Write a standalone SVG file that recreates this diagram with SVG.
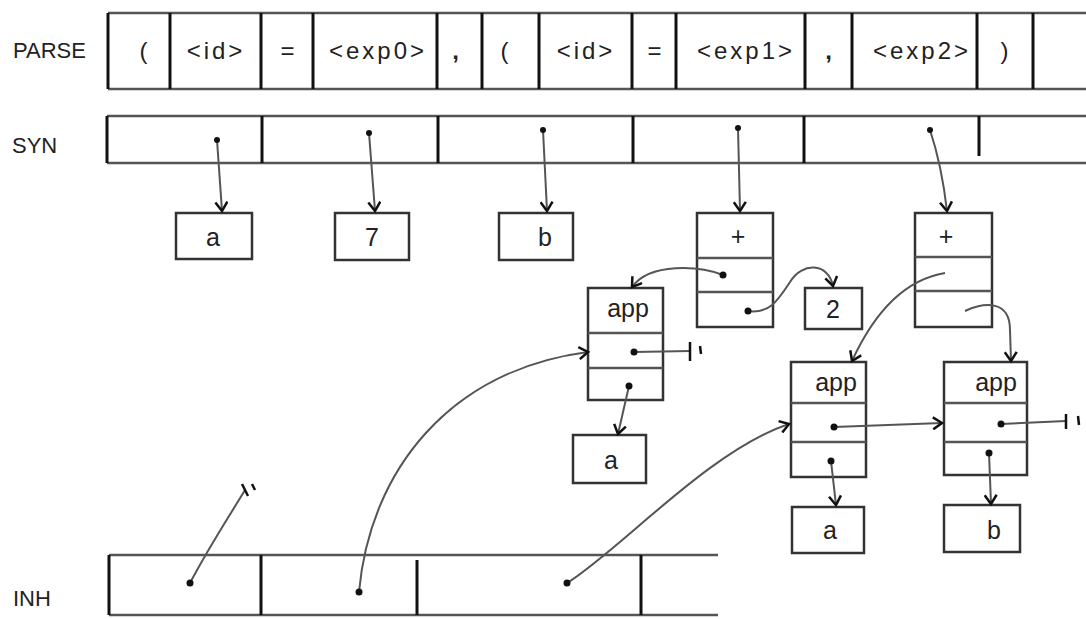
<svg xmlns="http://www.w3.org/2000/svg" width="1086" height="619" viewBox="0 0 1086 619">
<defs>
<style>
.lbl{font-family:"Liberation Sans",Arial,sans-serif;font-size:22px;fill:#222}
.t{font-family:"Liberation Sans",Arial,sans-serif;font-size:25px;fill:#222;text-anchor:middle}
.p{font-size:24px;letter-spacing:3px}
.h{fill:none;stroke:#555;stroke-width:2.5}
.v{stroke:#111;stroke-width:3}
.box{fill:#fff;stroke:#333;stroke-width:2.5}
.c{fill:none;stroke:#555;stroke-width:2}
.dot{fill:#111}
.tick{stroke:#111;stroke-width:2.5;fill:none}
</style>
<marker id="ah" markerWidth="14" markerHeight="14" refX="11" refY="7" orient="auto" markerUnits="userSpaceOnUse">
<path d="M2,1 L11,7 L2,13" fill="none" stroke="#111" stroke-width="2.5"/>
</marker>
</defs>
<rect x="0" y="0" width="1086" height="619" fill="#fff"/>

<g id="parse-row">
<text class="lbl" x="13" y="58">PARSE</text>
<line class="h" x1="108" y1="13" x2="1086" y2="13"/>
<line class="h" x1="108" y1="89" x2="1086" y2="89"/>
<g class="v">
<line x1="108" y1="13" x2="108" y2="89"/><line x1="170" y1="13" x2="170" y2="89"/>
<line x1="261" y1="13" x2="261" y2="89"/><line x1="313" y1="13" x2="313" y2="89"/>
<line x1="437" y1="13" x2="437" y2="89"/><line x1="482" y1="13" x2="482" y2="89"/>
<line x1="539" y1="13" x2="539" y2="89"/><line x1="632" y1="13" x2="632" y2="89"/>
<line x1="676" y1="13" x2="676" y2="89"/><line x1="805" y1="13" x2="805" y2="89"/>
<line x1="852" y1="13" x2="852" y2="89"/><line x1="977" y1="13" x2="977" y2="89"/>
<line x1="1033" y1="13" x2="1033" y2="89"/>
</g>
<text class="t p" x="145" y="59">(</text>
<text class="t p" x="216" y="59">&lt;id&gt;</text>
<text class="t p" x="289" y="59">=</text>
<text class="t p" x="378" y="59">&lt;exp0&gt;</text>
<text class="t p" x="457" y="59" font-weight="bold">,</text>
<text class="t p" x="506" y="59">(</text>
<text class="t p" x="586" y="59">&lt;id&gt;</text>
<text class="t p" x="656" y="59">=</text>
<text class="t p" x="746" y="59">&lt;exp1&gt;</text>
<text class="t p" x="830" y="59" font-weight="bold">,</text>
<text class="t p" x="922" y="59">&lt;exp2&gt;</text>
<text class="t p" x="1006" y="59">)</text>
</g>

<g id="syn-row">
<text class="lbl" x="12" y="153">SYN</text>
<line class="h" x1="107" y1="116" x2="1086" y2="116"/>
<line class="h" x1="107" y1="163" x2="1086" y2="163"/>
<g class="v">
<line x1="107" y1="116" x2="107" y2="163"/><line x1="262" y1="116" x2="262" y2="163"/>
<line x1="438" y1="116" x2="438" y2="163"/><line x1="633" y1="116" x2="633" y2="163"/>
<line x1="804" y1="116" x2="804" y2="163"/><line x1="979" y1="116" x2="979" y2="156"/>
</g>
</g>

<g id="inh-row">
<text class="lbl" x="13" y="606">INH</text>
<line class="h" x1="109" y1="555" x2="718" y2="555"/>
<line class="h" x1="109" y1="615" x2="718" y2="615"/>
<g class="v">
<line x1="109" y1="555" x2="109" y2="615"/><line x1="261" y1="555" x2="261" y2="615"/>
<line x1="417" y1="560" x2="417" y2="615"/><line x1="641" y1="555" x2="641" y2="615"/>
</g>
</g>

<g id="node-a1"><rect class="box" x="176" y="213" width="76" height="46"/><text class="t" x="213" y="246">a</text></g>
<g id="node-7"><rect class="box" x="335" y="213" width="74" height="47"/><text class="t" x="372" y="246">7</text></g>
<g id="node-b1"><rect class="box" x="499" y="213" width="74" height="47"/><text class="t" x="545" y="246">b</text></g>

<g id="node-plus1">
<rect class="box" x="697" y="213" width="76" height="114"/>
<line class="h" x1="697" y1="258" x2="773" y2="258"/><line class="h" x1="697" y1="292" x2="773" y2="292"/>
<text class="t" x="738" y="245" font-size="20">+</text>
</g>
<g id="node-plus2">
<rect class="box" x="915" y="213" width="77" height="114"/>
<line class="h" x1="915" y1="257" x2="992" y2="257"/><line class="h" x1="915" y1="291" x2="992" y2="291"/>
<text class="t" x="946" y="245" font-size="20">+</text>
</g>
<g id="node-2"><rect class="box" x="805" y="288" width="57" height="41"/><text class="t" x="833" y="318">2</text></g>

<g id="node-app1">
<rect class="box" x="588" y="288" width="75" height="112"/>
<line class="h" x1="588" y1="333" x2="663" y2="333"/><line class="h" x1="588" y1="368" x2="663" y2="368"/>
<text class="t" x="628" y="317">app</text>
</g>
<g id="node-a2"><rect class="box" x="573" y="435" width="73" height="48"/><text class="t" x="611" y="469">a</text></g>

<g id="node-app2">
<rect class="box" x="791" y="362" width="75" height="115"/>
<line class="h" x1="791" y1="403" x2="866" y2="403"/><line class="h" x1="791" y1="442" x2="866" y2="442"/>
<text class="t" x="836" y="391">app</text>
</g>
<g id="node-app3">
<rect class="box" x="944" y="362" width="83" height="113"/>
<line class="h" x1="944" y1="403" x2="1027" y2="403"/><line class="h" x1="944" y1="442" x2="1027" y2="442"/>
<text class="t" x="996" y="391">app</text>
</g>
<g id="node-a3"><rect class="box" x="792" y="507" width="72" height="46"/><text class="t" x="830" y="539">a</text></g>
<g id="node-b2"><rect class="box" x="944" y="505" width="76" height="47"/><text class="t" x="994" y="539">b</text></g>

<g id="connectors">
<path class="c" d="M217,140 L222,211" marker-end="url(#ah)"/>
<path class="c" d="M369,133 L375,211" marker-end="url(#ah)"/>
<path class="c" d="M543,130 L547,211" marker-end="url(#ah)"/>
<path class="c" d="M738,128 L740,211" marker-end="url(#ah)"/>
<path class="c" d="M930,130 C940,160 944,185 947,211" marker-end="url(#ah)"/>
<circle class="dot" cx="217" cy="140" r="3"/><circle class="dot" cx="369" cy="133" r="3"/>
<circle class="dot" cx="543" cy="130" r="3"/><circle class="dot" cx="738" cy="128" r="3"/>
<circle class="dot" cx="930" cy="130" r="3"/>

<path class="c" d="M723,275 C700,266 650,262 632,287" marker-end="url(#ah)"/>
<circle class="dot" cx="723" cy="275" r="3.5"/>
<path class="c" d="M748,311 C770,314 778,300 790,282 C802,262 828,262 833,286" marker-end="url(#ah)"/>
<circle class="dot" cx="748" cy="311" r="3.5"/>
<path class="c" d="M945,273 C915,278 880,300 852,361" marker-end="url(#ah)"/>
<path class="c" d="M965,311 C985,302 1010,300 1010,330 L1011,361" marker-end="url(#ah)"/>

<path class="c" d="M634,352 L690,351"/>
<circle class="dot" cx="634" cy="352" r="3.5"/>
<path class="tick" d="M690,342 L690,361 M700,346 L701,354"/>
<path class="c" d="M629,386 L618,434" marker-end="url(#ah)"/>
<circle class="dot" cx="629" cy="386" r="3.5"/>

<path class="c" d="M834,427 L942,423" marker-end="url(#ah)"/>
<circle class="dot" cx="834" cy="427" r="3.5"/>
<path class="c" d="M1001,424 L1066,421"/>
<circle class="dot" cx="1001" cy="424" r="3.5"/>
<path class="tick" d="M1066,414 L1066,429 M1078,416 L1079,425"/>
<path class="c" d="M831,461 L836,505" marker-end="url(#ah)"/>
<circle class="dot" cx="831" cy="461" r="3.5"/>
<path class="c" d="M989,453 L991,504" marker-end="url(#ah)"/>
<circle class="dot" cx="989" cy="453" r="3.5"/>

<path class="c" d="M190,583 C210,545 230,515 245,490"/>
<circle class="dot" cx="190" cy="583" r="3.5"/>
<path class="tick" d="M242,484 L248,496 M252,484 L255,490"/>
<path class="c" d="M359,592 C370,470 450,370 588,352" marker-end="url(#ah)"/>
<circle class="dot" cx="359" cy="592" r="3.5"/>
<path class="c" d="M567,583 C620,550 710,450 789,424" marker-end="url(#ah)"/>
<circle class="dot" cx="567" cy="583" r="3.5"/>
</g>
</svg>
